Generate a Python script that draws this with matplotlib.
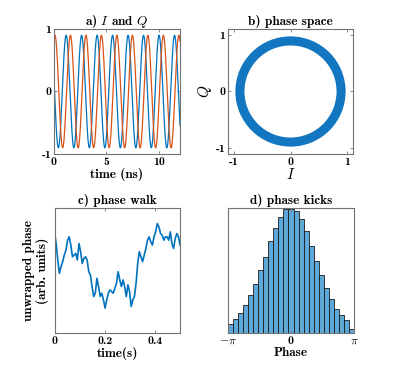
import numpy as np
import matplotlib.pyplot as plt
from matplotlib.patches import Annulus

plt.rcParams['font.family'] = 'cmb10'
plt.rcParams['mathtext.fontset'] = 'cm'
plt.rcParams['axes.unicode_minus'] = False

BLUE = '#0072BD'
ORANGE = '#D95319'
BOX = '0.45'

# a) I and Q : carrier (ns)
amp = 0.9
period = 1.475
i_peak = 1.155   # first I maximum
q_peak = 0.09    # first Q maximum
t_end = 12

# b) phase space ring
ring_r = 0.97
ring_w = 0.16

# c) phase walk (arb. units), read every ~6.6 ms
walk = [30.5, 27.0, 22.0, 18.0, 20.0, 21.5, 23.5, 25.0, 28.0, 29.0,
        26.5, 23.0, 23.5, 24.0, 22.0, 27.0, 24.5, 21.0, 22.5, 23.0,
        22.0, 18.5, 17.5, 14.0, 11.0, 12.0, 16.5, 14.0, 11.0, 12.0,
        10.0, 7.5, 10.0, 12.0, 13.0, 12.5, 12.0, 13.5, 15.0, 18.5,
        16.0, 14.0, 16.0, 14.0, 11.0, 14.5, 12.5, 8.0, 10.0, 11.0,
        15.0, 21.0, 24.5, 23.0, 21.5, 23.5, 25.5, 28.0, 29.0, 27.5,
        26.5, 29.0, 30.5, 33.0, 32.0, 30.0, 29.5, 28.0, 29.0, 29.0,
        28.0, 30.5, 27.0, 25.5, 28.5, 30.0, 29.0, 26.5]

# d) phase kicks histogram, 25 bins over [-pi, pi]
kicks = [94, 144, 200, 277, 377, 490, 634, 760, 917, 1054,
         1160, 1244, 1244, 1217, 1137, 1024, 870, 717, 584, 450,
         337, 240, 185, 133, 44]

fig = plt.figure(figsize=(3.95, 3.77), dpi=100)
axa = fig.add_axes([0.1367, 0.5915, 0.319, 0.3316])
axb = fig.add_axes([0.5772, 0.5915, 0.3165, 0.3316])
axc = fig.add_axes([0.138, 0.1167, 0.318, 0.3316])
axd = fig.add_axes([0.5772, 0.1167, 0.319, 0.3316])

for ax in (axa, axb, axc, axd):
    for s in ax.spines.values():
        s.set_color(BOX)
        s.set_linewidth(0.8)
    ax.tick_params(direction='in', top=True, right=True, length=2.5,
                   width=0.6, color=BOX, labelsize=8.5, pad=2)

# a
t = np.linspace(0, t_end, 1200)
I = amp * np.cos(2 * np.pi * (t - i_peak) / period)
Q = amp * np.cos(2 * np.pi * (t - q_peak) / period)
axa.plot(t, I, color=BLUE, lw=0.9)
axa.plot(t, Q, color=ORANGE, lw=0.9)
axa.set_xlim(0, 12)
axa.set_ylim(-1, 1)
axa.set_xticks([0, 5, 10])
axa.set_xticklabels(['0', '5', '10'])
axa.set_yticks([-1, 0, 1])
axa.set_yticklabels(['-1', '0', '1'])
axa.set_title('a) $I$ and $Q$', fontsize=9.5, pad=3)
axa.set_xlabel('time (ns)', fontsize=9.5, labelpad=1)

# b
axb.add_patch(Annulus((0, 0), ring_r, ring_w, color='#1276C0', lw=0))
axb.set_xlim(-1.1, 1.1)
axb.set_ylim(-1.1, 1.1)
axb.set_xticks([-1, 0, 1])
axb.set_xticklabels(['-1', '0', '1'])
axb.set_yticks([-1, 0, 1])
axb.set_yticklabels(['-1', '0', '1'])
axb.set_title('b) phase space', fontsize=9.5, pad=3)
axb.set_xlabel('$I$', fontsize=11, labelpad=0)
axb.set_ylabel('$Q$', fontsize=11, labelpad=1)

# c
tw = np.linspace(0, 0.5, len(walk))
axc.plot(tw, walk, color=BLUE, lw=1.2)
axc.set_xlim(0, 0.5)
axc.set_ylim(0, 37.7)
axc.set_xticks([0, 0.2, 0.4])
axc.set_xticklabels(['0', '0.2', '0.4'])
axc.set_yticks([])
axc.set_title('c) phase walk', fontsize=9.5, pad=3)
axc.set_xlabel('time(s)', fontsize=9.5, labelpad=1)
axc.set_ylabel('unwrapped phase\n(arb. units)', fontsize=9.5, labelpad=4,
               linespacing=1.1)

# d
edges = np.linspace(-np.pi, np.pi, len(kicks) + 1)
axd.bar(edges[:-1], kicks, width=np.diff(edges), align='edge',
        color='#5FA8DA', edgecolor='#1a1a1a', linewidth=0.6)
axd.set_xlim(-np.pi, np.pi)
axd.set_ylim(0, 1250)
axd.set_xticks([-np.pi, 0, np.pi])
axd.set_xticklabels([r'$-\pi$', '0', r'$\pi$'])
axd.set_yticks([])
axd.set_title('d) phase kicks', fontsize=9.5, pad=3)
axd.set_xlabel('Phase', fontsize=9.5, labelpad=1)

fig.savefig('out.png', dpi=100)
